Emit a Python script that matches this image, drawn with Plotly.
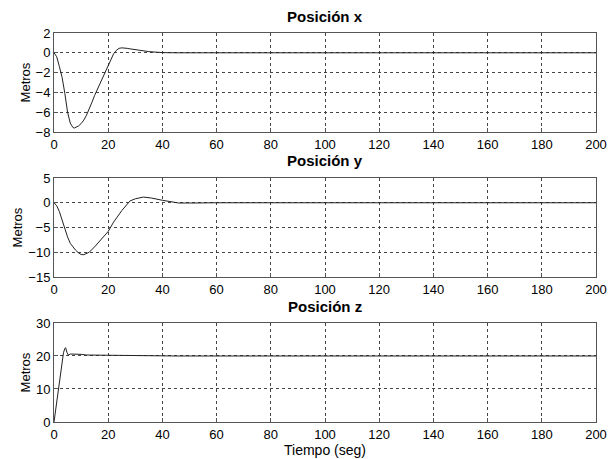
import plotly.graph_objects as go
from plotly.subplots import make_subplots

# Posición x
tx = [0, 1, 2, 3, 4, 5, 6, 7, 7.5, 8, 9, 10, 11, 12, 13, 14, 15, 16, 17, 18, 19, 20, 21, 22, 23, 24, 25, 26, 27, 28, 30, 32, 35, 38, 40, 45, 64, 65, 80, 81, 100, 120, 140, 160, 180, 200]
px = [0, -0.4, -1.4, -2.5, -4.1, -6.0, -7.1, -7.55, -7.6, -7.55, -7.4, -7.15, -6.8, -6.3, -5.7, -5.0, -4.3, -3.7, -3.1, -2.4, -1.8, -1.3, -0.7, -0.1, 0.25, 0.45, 0.5, 0.5, 0.45, 0.4, 0.3, 0.2, 0.12, 0.06, 0.02, 0.0, 0.0, 0.06, 0.06, 0.0, 0.0, 0.0, 0.0, 0.0, 0.0, 0.0]

# Posición y
ty = [0, 1, 2, 3, 4, 5, 6, 7, 8, 9, 10, 11, 12, 13, 15, 17, 20, 22, 25, 28, 30, 33, 36, 40, 44, 46, 52, 60, 100, 162, 163, 170, 171, 185, 186, 190, 191, 200]
py = [0, -0.6, -1.8, -3.5, -5.3, -6.9, -8.2, -9.0, -9.6, -10.1, -10.45, -10.5, -10.3, -10.0, -8.9, -7.6, -5.8, -3.9, -1.6, 0.35, 0.8, 1.15, 0.95, 0.5, 0.05, -0.05, -0.05, 0.0, 0.0, 0.0, -0.08, -0.08, 0.0, 0.0, -0.08, -0.08, 0.0, 0.0]

# Posición z
tz = [0, 1, 2, 3, 3.5, 4, 4.3, 4.8, 5.3, 6, 8, 10, 12, 20, 40, 45, 100, 200]
pz = [0, 6, 12, 18.5, 21.0, 22.3, 22.5, 21.0, 20.3, 20.6, 20.6, 20.5, 20.3, 20.2, 20.1, 20.0, 20.0, 20.0]

titles = ["Posición x", "Posición y", "Posición z"]
yranges = [[-8, 2], [-15, 5], [0, 30]]
ydticks = [2, 5, 10]

fig = make_subplots(rows=3, cols=1)
for i, (t, v) in enumerate([(tx, px), (ty, py), (tz, pz)]):
    fig.add_trace(go.Scatter(x=t, y=v, mode="lines",
                             line=dict(color="#222222", width=1),
                             showlegend=False), row=i + 1, col=1)

domains = [[0.7455, 1.0], [0.3728, 0.6272], [0.0, 0.2545]]
for i in range(3):
    ax = "" if i == 0 else str(i + 1)
    fig.layout["xaxis" + ax].update(
        range=[0, 200], dtick=20, tick0=0, showgrid=True, automargin=False,
        gridcolor="#444444", griddash="dot", gridwidth=1,
        showline=True, mirror=True, linecolor="#555555", linewidth=1,
        ticks="inside", ticklen=4, tickcolor="#555555",
        zeroline=False, tickfont=dict(size=13, color="#000000"))
    fig.layout["yaxis" + ax].update(
        domain=domains[i], range=yranges[i], dtick=ydticks[i], automargin=False,
        showgrid=True, gridcolor="#444444", griddash="dot", gridwidth=1,
        showline=True, mirror=True, linecolor="#555555", linewidth=1,
        ticks="inside", ticklen=4, tickcolor="#555555",
        zeroline=False, tickfont=dict(size=13, color="#000000"),
        title=dict(text="Metros", font=dict(size=13, color="#000000"), standoff=2))

fig.layout["xaxis3"].title = dict(text="Tiempo (seg)", font=dict(size=14, color="#000000"), standoff=0)

title_y = [1.0437, 0.6710, 0.2982]
for i in range(3):
    fig.add_annotation(text="<b>" + titles[i] + "</b>", x=0.5, y=title_y[i],
                       xref="paper", yref="paper", showarrow=False,
                       yanchor="middle", font=dict(size=15, color="#000000"))

fig.update_layout(width=610, height=459,
                  margin=dict(l=54, r=14, t=33, b=37),
                  paper_bgcolor="white", plot_bgcolor="white",
                  font=dict(family="Liberation Sans, Arial, sans-serif"))

# remove the page's default body margin so the figure fills the window exactly
fig.write_html("out.html", config={"displayModeBar": False},
               post_script="document.body.style.margin='0';document.body.style.overflow='hidden';")
